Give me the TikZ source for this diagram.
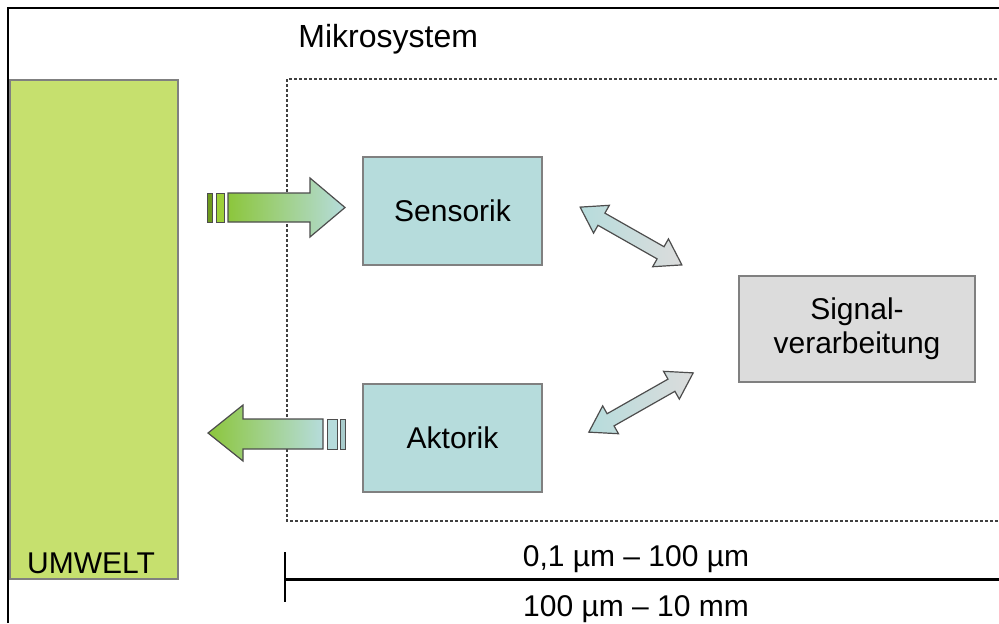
\documentclass[tikz,border=0pt]{standalone}
\usepackage{fontspec}
\setmainfont{Liberation Sans}
\usetikzlibrary{positioning,calc}

\definecolor{umweltgreen}{HTML}{C6E06E}
\definecolor{sensfill}{HTML}{B6DCDC}
\definecolor{signalfill}{HTML}{DCDCDC}
\definecolor{boxline}{HTML}{808080}
\definecolor{arrowgreen}{HTML}{8CC63C}
\definecolor{bargreen}{HTML}{6E9A1E}
\definecolor{barlight}{HTML}{9ED03A}
\definecolor{barcyan}{HTML}{A8CCCC}

\tikzset{
  block/.style={draw=boxline, line width=0.6pt, inner sep=0pt, align=center, font=\fontsize{15}{17}\selectfont},
  fatarrow/.style={draw=boxline!60!black, line width=0.6pt},
  label/.style={font=\fontsize{15}{17}\selectfont, inner sep=0pt}
}

\begin{document}
\begin{tikzpicture}[x=0.5pt,y=-0.5pt]
\useasboundingbox (0,0) rectangle (999,623);

% frame
\draw[line width=1pt] (8,623) -- (8,8) -- (999,8);

% environment
\node[block, fill=umweltgreen, minimum width=84pt, minimum height=249.5pt] (umwelt) at (94,329.5) {};
\node[label, anchor=base] (umwelttext) at (91,573) {UMWELT};

% microsystem boundary
\draw[boxline!50!black, line width=0.6pt, dash pattern=on 1.5pt off 1pt] (287,79) rectangle (1010,521);
\node[label, font=\fontsize{16}{18}\selectfont, anchor=base west] (mikro) at (298,47) {Mikrosystem};

% blocks
\node[block, fill=sensfill, minimum width=89.5pt, minimum height=54pt] (sensorik) at (452.5,211) {Sensorik};
\node[block, fill=sensfill, minimum width=89.5pt, minimum height=54pt] (aktorik) at (452.5,438) {Aktorik};
\node[block, fill=signalfill, minimum width=118pt, minimum height=53pt] (signal) at (857,329) {Signal-\\verarbeitung};

% input arrow
\fill[bargreen, draw=boxline!60!black, line width=0.4pt] (207,193) rectangle (212,222);
\fill[barlight, draw=boxline!60!black, line width=0.4pt] (216,193) rectangle (224,222);
\shade[fatarrow, left color=arrowgreen, right color=sensfill]
  (228,193) -- (310,193) -- (310,178) -- (345,207.5) -- (310,237) -- (310,222) -- (228,222) -- cycle;

% output arrow
\shade[fatarrow, left color=arrowgreen, right color=sensfill]
  (323,419) -- (243,419) -- (243,405) -- (208,433) -- (243,461) -- (243,449) -- (323,449) -- cycle;
\fill[sensfill, draw=boxline!60!black, line width=0.4pt] (327,419) rectangle (337,449);
\fill[barcyan, draw=boxline!60!black, line width=0.4pt] (340,419) rectangle (345,449);

% signal paths
\begin{scope}[shift={(631,236)}, rotate=-29.6]
\shade[fatarrow, left color=sensfill, right color=signalfill]
  (-58.5,0) -- (-34,16) -- (-34,7) -- (34,7) -- (34,16) -- (58.5,0) -- (34,-16) -- (34,-7) -- (-34,-7) -- (-34,-16) -- cycle;
\end{scope}
\begin{scope}[shift={(641,402.5)}, rotate=29.6]
\shade[fatarrow, left color=sensfill, right color=signalfill]
  (-60,0) -- (-35,16) -- (-35,7) -- (35,7) -- (35,16) -- (60,0) -- (35,-16) -- (35,-7) -- (-35,-7) -- (-35,-16) -- cycle;
\end{scope}

% scale bar
\coordinate (barstart) at (285,579);
\coordinate (barend) at (1010,579);
\draw[line width=1.5pt] (barstart) -- (barend);
\draw[line width=1pt] ($(barstart)+(0,-27)$) -- ($(barstart)+(0,23)$);
\node[label, anchor=base] (rangeup) at (636,566) {0,1 µm – 100 µm};
\node[label, anchor=base] (rangedown) at (636,616) {100 µm – 10 mm};
\end{tikzpicture}
\end{document}
